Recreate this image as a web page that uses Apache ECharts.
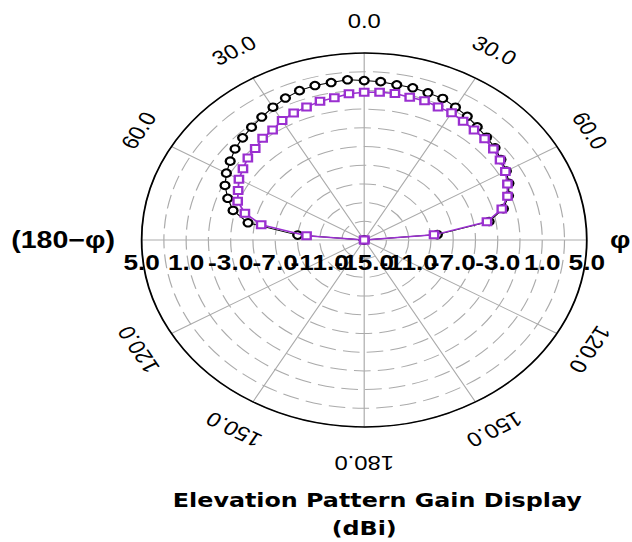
<!DOCTYPE html>
<html><head><meta charset="utf-8">
<script src="https://cdn.jsdelivr.net/npm/echarts@6/dist/echarts.min.js"></script>
<style>
html,body{margin:0;padding:0;background:#fff;overflow:hidden}
#wrap{width:632px;height:542px;overflow:hidden;position:relative;background:#fff}
#main{width:531px;height:542px;transform:scaleX(1.1902);transform-origin:0 0}
</style></head>
<body><div id="wrap"><div id="main"></div></div>
<script>
// Elevation angles (deg, 0 = zenith, clockwise positive)
const angles = [-90,-85,-80,-75,-70,-65,-60,-55,-50,-45,-40,-35,-30,-25,-20,-15,-10,-5,0,5,10,15,20,25,30,35,40,45,50,55,60,65,70,75,80,85,90];
// Gain (dBi) - purple square series
const gainPurple = [-15,-9.8,-5.6,-3.9,-2.9,-2.5,-2.0,-1.7,-1.35,-1.15,-0.8,-0.65,-0.25,0.0,0.15,0.35,0.45,0.7,0.8,0.85,0.9,0.8,0.85,0.7,0.7,0.5,0.35,0.3,0.15,-0.1,-0.35,-0.8,-1.3,-2.2,-3.8,-8.7,-15];
// Gain (dBi) - black circle series
const gainBlack = [-15,-9.0,-4.4,-2.8,-1.95,-1.2,-0.7,-0.3,0.15,0.45,0.75,1.05,1.4,1.75,2.0,2.1,2.1,2.2,2.05,2.0,1.85,1.85,1.75,1.7,1.4,1.15,0.8,0.55,0.35,0.0,-0.25,-0.65,-1.2,-2.05,-3.6,-8.4,-15];
// Radial tick labels
const radialTicksLeft = [5,1,-3,-7,-11];
const radialTickCenter = [-15];
const radialTicksRight = [-11,-7,-3,1,5];
// Angle tick positions and labels
const angleTicks = [0,30,60,90,120,150,180,210,240,270,300,330];
const angleTickLabels = ['0.0','30.0','60.0','φ','120.0','150.0','180.0','150.0','120.0','(180\u2212φ)','60.0','30.0'];
const titleMain = 'Elevation Pattern Gain Display';
const titleSub = '(dBi)';

const rMin = -15, rMax = 5;
const toPairs = (vals) => vals.map((v, i) => [v, angles[i]]);

const radLabelData = []
  .concat(radialTicksLeft.map(v => ({ value: [v, 270], name: v.toFixed(1) })))
  .concat(radialTickCenter.map(v => ({ value: [v, 0], name: v.toFixed(1) })))
  .concat(radialTicksRight.map(v => ({ value: [v, 90], name: v.toFixed(1) })));

const angLabelData = angleTicks.map((a, i) => {
  const txt = angleTickLabels[i];
  if (a === 270) {
    return { value: [7.4, a], name: txt, label: { align: 'right', verticalAlign: 'middle', position: 'inside', rotate: 0, fontWeight: 'bold', fontSize: 24, color: '#000' } };
  }
  if (a === 90) {
    return { value: [8.0, a], name: txt, label: { rotate: 0, fontWeight: 'bold', fontSize: 24, color: '#000' } };
  }
  const rr = (a === 180) ? 8.8 : 8.4;
  return { value: [rr, a], name: txt, label: { rotate: -a, color: '#000' } };
});

const chart = echarts.init(document.getElementById('main'), null, { renderer: 'svg' });
chart.setOption({
  backgroundColor: '#fff',
  animation: false,
  title: [
    { text: titleMain, left: 317, top: 490, padding: 0, textAlign: 'center',
      textStyle: { fontFamily: 'DejaVu Sans', fontWeight: 'bold', fontSize: 20, color: '#000' } },
    { text: titleSub, left: 306, top: 518, padding: 0, textAlign: 'center',
      textStyle: { fontFamily: 'DejaVu Sans', fontWeight: 'bold', fontSize: 20, color: '#000' } }
  ],
  polar: { center: [306, 240], radius: 187 },
  angleAxis: {
    type: 'value', min: 0, max: 360, interval: 30, startAngle: 90, clockwise: true,
    axisLine: { show: true, lineStyle: { color: '#000', width: 1.5 } },
    axisTick: { show: false },
    axisLabel: { show: false },
    splitLine: { show: true, lineStyle: { color: '#ababab', width: 1 } }
  },
  radiusAxis: {
    type: 'value', min: rMin, max: rMax, interval: 2,
    axisLine: { show: false }, axisTick: { show: false }, axisLabel: { show: false },
    splitLine: { show: true, lineStyle: { color: '#ababab', width: 1, type: [14, 6] } }
  },
  series: [
    {
      name: 'purple', type: 'line', coordinateSystem: 'polar', clip: false,
      data: toPairs(gainPurple),
      symbol: 'emptyRect', symbolSize: 7, showAllSymbol: true,
      lineStyle: { color: '#9a2fd0', width: 1.5 },
      itemStyle: { color: '#9a2fd0', borderWidth: 1.3 },
      z: 3
    },
    {
      name: 'black', type: 'line', coordinateSystem: 'polar', clip: false,
      data: toPairs(gainBlack),
      symbol: 'emptyCircle', symbolSize: 7.5, showAllSymbol: true,
      lineStyle: { color: '#000', width: 1 },
      itemStyle: { color: '#000', borderWidth: 1 },
      z: 2
    },
    {
      name: 'radLabels', type: 'scatter', coordinateSystem: 'polar', clip: false, silent: true,
      symbolSize: 1, itemStyle: { color: 'rgba(0,0,0,0)' },
      data: radLabelData,
      label: { show: true, position: 'bottom', distance: 11, formatter: p => p.name,
        fontFamily: 'Liberation Sans', fontWeight: 'bold', fontSize: 22, color: '#000', opacity: 1, textBorderWidth: 0 },
      z: 5
    },
    {
      name: 'angLabels', type: 'scatter', coordinateSystem: 'polar', clip: false, silent: true,
      symbolSize: 1, itemStyle: { color: 'rgba(0,0,0,0)' },
      data: angLabelData,
      label: { show: true, position: 'inside', formatter: p => p.name, align: 'center', verticalAlign: 'middle',
        fontFamily: 'Liberation Sans', fontSize: 20, color: '#000', opacity: 1, textBorderWidth: 0 },
      z: 5
    }
  ]
});
</script>
</body></html>
